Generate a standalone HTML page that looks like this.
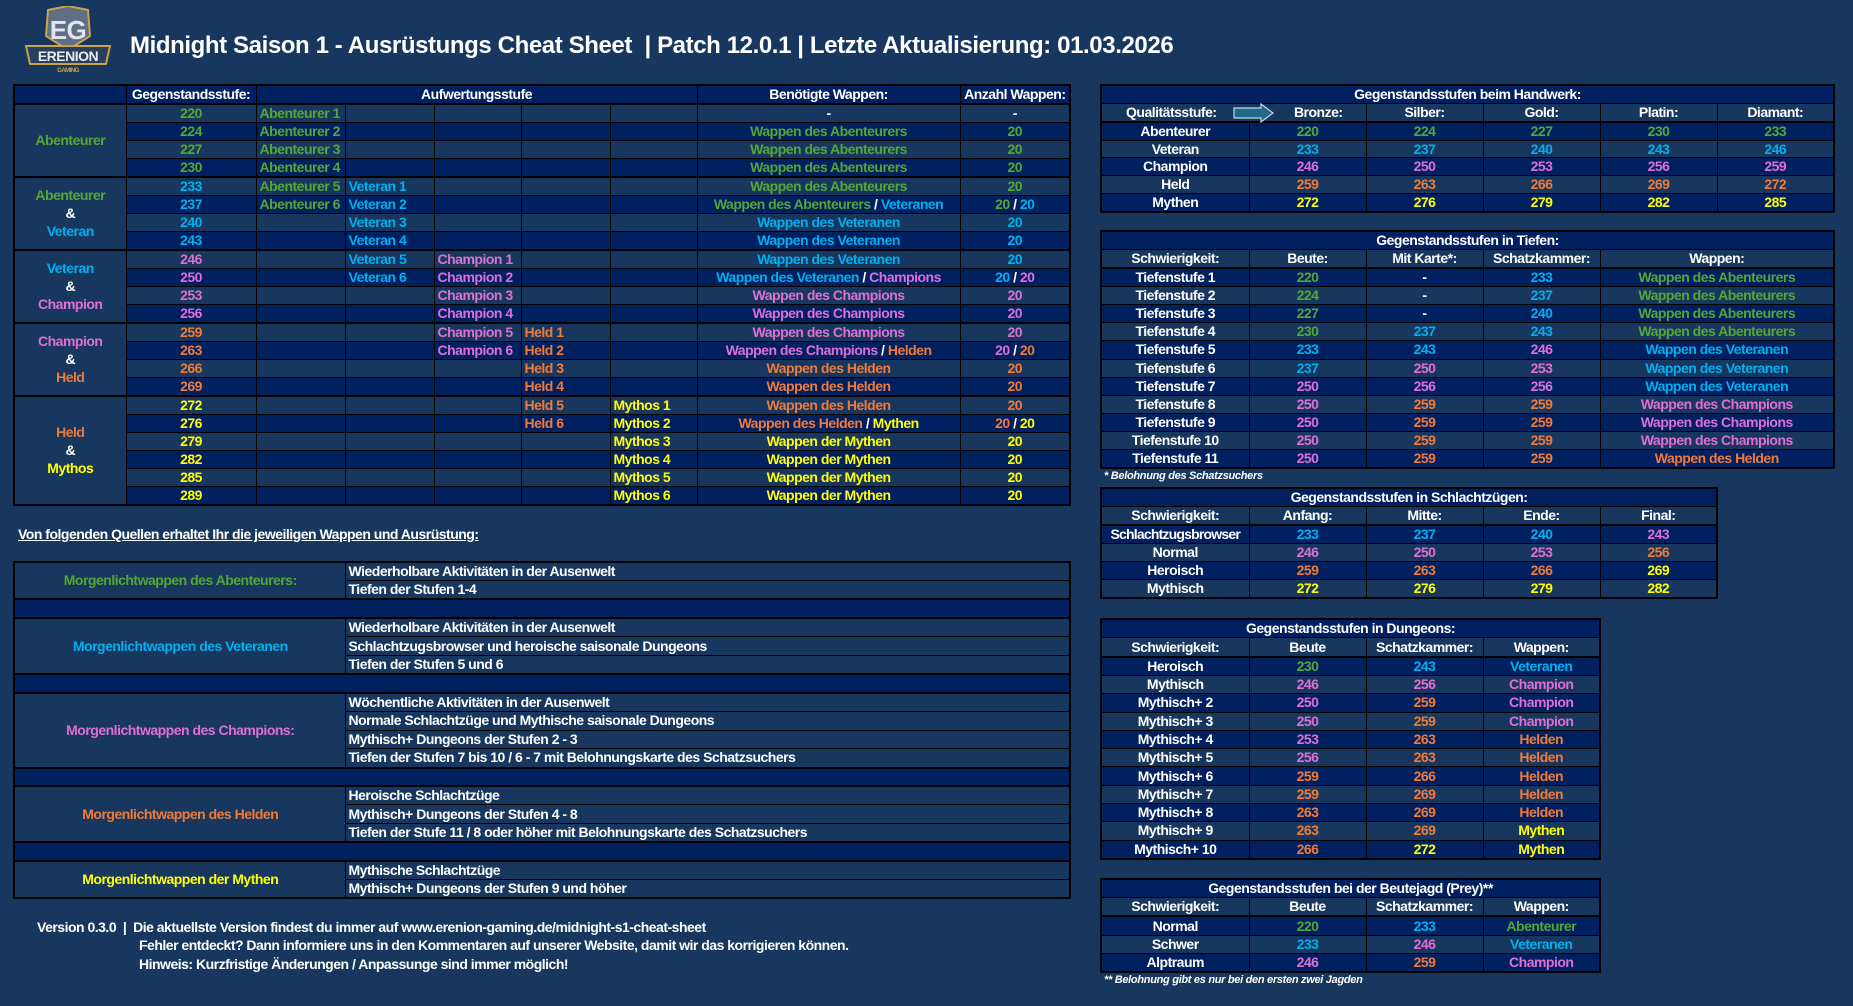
<!DOCTYPE html>
<html><head><meta charset="utf-8">
<style>
*{margin:0;padding:0;box-sizing:border-box}
body{width:1853px;height:1006px;background:#17375e;position:relative;overflow:hidden;font-family:"Liberation Sans",sans-serif;font-weight:bold;color:#fff;font-size:14px;letter-spacing:-0.5px}
table{position:absolute;border-collapse:collapse;table-layout:fixed;border:2px solid #000}
td{border:1px solid #000;padding:0 2px;text-align:center;white-space:nowrap;overflow:hidden;line-height:15px}
.d td,td.d{background:#002060}
.l td,td.l{background:#17375e}
.g{color:#55a635}.b{color:#00b0f0}.p{color:#df6fd5}.o{color:#f07a3a}.y{color:#ffff00}.w{color:#fff}
.lf{text-align:left;padding-left:3px}
.tb td{border-top:2px solid #000}
.hb td{border-bottom:2px solid #000}
.title{position:absolute;left:130px;top:32px;font-size:24px;letter-spacing:-0.4px;white-space:nowrap}
.note{position:absolute;font-size:11px;font-style:italic;white-space:nowrap;letter-spacing:-0.3px}
.src td{text-align:left;padding-left:3px;background:#17375e}
.src tr{height:18.7px}
.src tr.sp td{background:#002060;border-top:2px solid #000;border-bottom:2px solid #000}
</style></head><body>

<svg style="position:absolute;left:22px;top:6px" width="92" height="68" viewBox="0 0 92 68">
<path d="M26 4 L46 0 L66 4 L68 30 L46 44 L24 30 Z" fill="#5e6f86" stroke="#c9a24a" stroke-width="2"/>
<text x="46" y="33" text-anchor="middle" font-family="Liberation Sans" font-weight="bold" font-size="26" fill="#dfe6ee">EG</text>
<path d="M4 40 L88 40 L84 58 L8 58 Z" fill="#2a3f5c" stroke="#c9a24a" stroke-width="2"/>
<text x="46" y="55" text-anchor="middle" font-family="Liberation Sans" font-weight="bold" font-size="14" fill="#e8ecf0">ERENION</text>
<text x="46" y="66" text-anchor="middle" font-family="Liberation Sans" font-weight="bold" font-size="6" fill="#c9a24a">GAMING</text>
</svg>
<div class="title">Midnight Saison 1 - Ausrüstungs Cheat Sheet &nbsp;| Patch 12.0.1 | Letzte Aktualisierung: 01.03.2026</div>

<!-- Main table -->
<table style="left:13px;top:84px;width:1056px;height:422px">
<colgroup><col style="width:112px"><col style="width:130px"><col style="width:89px"><col style="width:89px"><col style="width:87px"><col style="width:89px"><col style="width:87px"><col style="width:263px"><col style="width:110px"></colgroup>
<tr class="d hb"><td></td><td>Gegenstandsstufe:</td><td colspan="5">Aufwertungsstufe</td><td>Benötigte Wappen:</td><td>Anzahl Wappen:</td></tr>
<tr class="l"><td rowspan="4" class="d g">Abenteurer</td><td class="g">220</td><td class="g lf">Abenteurer 1</td><td></td><td></td><td></td><td></td><td>-</td><td>-</td></tr>
<tr class="d"><td class="g">224</td><td class="g lf">Abenteurer 2</td><td></td><td></td><td></td><td></td><td class="g">Wappen des Abenteurers</td><td class="g">20</td></tr>
<tr class="l"><td class="g">227</td><td class="g lf">Abenteurer 3</td><td></td><td></td><td></td><td></td><td class="g">Wappen des Abenteurers</td><td class="g">20</td></tr>
<tr class="d"><td class="g">230</td><td class="g lf">Abenteurer 4</td><td></td><td></td><td></td><td></td><td class="g">Wappen des Abenteurers</td><td class="g">20</td></tr>
<tr class="l tb"><td rowspan="4" class="d" style="line-height:18px"><span class="g">Abenteurer</span><br>&amp;<br><span class="b">Veteran</span></td><td class="b">233</td><td class="g lf">Abenteurer 5</td><td class="b lf">Veteran 1</td><td></td><td></td><td></td><td class="g">Wappen des Abenteurers</td><td class="g">20</td></tr>
<tr class="d"><td class="b">237</td><td class="g lf">Abenteurer 6</td><td class="b lf">Veteran 2</td><td></td><td></td><td></td><td><span class="g">Wappen des Abenteurers</span> / <span class="b">Veteranen</span></td><td><span class="g">20</span> / <span class="b">20</span></td></tr>
<tr class="l"><td class="b">240</td><td></td><td class="b lf">Veteran 3</td><td></td><td></td><td></td><td class="b">Wappen des Veteranen</td><td class="b">20</td></tr>
<tr class="d"><td class="b">243</td><td></td><td class="b lf">Veteran 4</td><td></td><td></td><td></td><td class="b">Wappen des Veteranen</td><td class="b">20</td></tr>
<tr class="l tb"><td rowspan="4" class="d" style="line-height:18px"><span class="b">Veteran</span><br>&amp;<br><span class="p">Champion</span></td><td class="p">246</td><td></td><td class="b lf">Veteran 5</td><td class="p lf">Champion 1</td><td></td><td></td><td class="b">Wappen des Veteranen</td><td class="b">20</td></tr>
<tr class="d"><td class="p">250</td><td></td><td class="b lf">Veteran 6</td><td class="p lf">Champion 2</td><td></td><td></td><td><span class="b">Wappen des Veteranen</span> / <span class="p">Champions</span></td><td><span class="b">20</span> / <span class="p">20</span></td></tr>
<tr class="l"><td class="p">253</td><td></td><td></td><td class="p lf">Champion 3</td><td></td><td></td><td class="p">Wappen des Champions</td><td class="p">20</td></tr>
<tr class="d"><td class="p">256</td><td></td><td></td><td class="p lf">Champion 4</td><td></td><td></td><td class="p">Wappen des Champions</td><td class="p">20</td></tr>
<tr class="l tb"><td rowspan="4" class="d" style="line-height:18px"><span class="p">Champion</span><br>&amp;<br><span class="o">Held</span></td><td class="o">259</td><td></td><td></td><td class="p lf">Champion 5</td><td class="o lf">Held 1</td><td></td><td class="p">Wappen des Champions</td><td class="p">20</td></tr>
<tr class="d"><td class="o">263</td><td></td><td></td><td class="p lf">Champion 6</td><td class="o lf">Held 2</td><td></td><td><span class="p">Wappen des Champions</span> / <span class="o">Helden</span></td><td><span class="p">20</span> / <span class="o">20</span></td></tr>
<tr class="l"><td class="o">266</td><td></td><td></td><td></td><td class="o lf">Held 3</td><td></td><td class="o">Wappen des Helden</td><td class="o">20</td></tr>
<tr class="d"><td class="o">269</td><td></td><td></td><td></td><td class="o lf">Held 4</td><td></td><td class="o">Wappen des Helden</td><td class="o">20</td></tr>
<tr class="l tb"><td rowspan="6" class="d" style="line-height:18px"><span class="o">Held</span><br>&amp;<br><span class="y">Mythos</span></td><td class="y">272</td><td></td><td></td><td></td><td class="o lf">Held 5</td><td class="y lf">Mythos 1</td><td class="o">Wappen des Helden</td><td class="o">20</td></tr>
<tr class="d"><td class="y">276</td><td></td><td></td><td></td><td class="o lf">Held 6</td><td class="y lf">Mythos 2</td><td><span class="o">Wappen des Helden</span> / <span class="y">Mythen</span></td><td><span class="o">20</span> / <span class="y">20</span></td></tr>
<tr class="l"><td class="y">279</td><td></td><td></td><td></td><td></td><td class="y lf">Mythos 3</td><td class="y">Wappen der Mythen</td><td class="y">20</td></tr>
<tr class="d"><td class="y">282</td><td></td><td></td><td></td><td></td><td class="y lf">Mythos 4</td><td class="y">Wappen der Mythen</td><td class="y">20</td></tr>
<tr class="l"><td class="y">285</td><td></td><td></td><td></td><td></td><td class="y lf">Mythos 5</td><td class="y">Wappen der Mythen</td><td class="y">20</td></tr>
<tr class="d"><td class="y">289</td><td></td><td></td><td></td><td></td><td class="y lf">Mythos 6</td><td class="y">Wappen der Mythen</td><td class="y">20</td></tr>
</table>

<div style="position:absolute;left:18px;top:526px;font-size:14px;text-decoration:underline">Von folgenden Quellen erhaltet Ihr die jeweiligen Wappen und Ausrüstung:</div>

<table class="src" style="left:13px;top:561px;width:1056px;height:337px">
<colgroup><col style="width:331px"><col style="width:725px"></colgroup>
<tr><td rowspan="2" class="g" style="text-align:center">Morgenlichtwappen des Abenteurers:</td><td>Wiederholbare Aktivitäten in der Ausenwelt</td></tr>
<tr><td>Tiefen der Stufen 1-4</td></tr>
<tr class="sp"><td colspan="2"></td></tr>
<tr><td rowspan="3" class="b" style="text-align:center">Morgenlichtwappen des Veteranen</td><td>Wiederholbare Aktivitäten in der Ausenwelt</td></tr>
<tr><td>Schlachtzugsbrowser und heroische saisonale Dungeons</td></tr>
<tr><td>Tiefen der Stufen 5 und 6</td></tr>
<tr class="sp"><td colspan="2"></td></tr>
<tr><td rowspan="4" class="p" style="text-align:center">Morgenlichtwappen des Champions:</td><td>Wöchentliche Aktivitäten in der Ausenwelt</td></tr>
<tr><td>Normale Schlachtzüge und Mythische saisonale Dungeons</td></tr>
<tr><td>Mythisch+ Dungeons der Stufen 2 - 3</td></tr>
<tr><td>Tiefen der Stufen 7 bis 10 / 6 - 7 mit Belohnungskarte des Schatzsuchers</td></tr>
<tr class="sp"><td colspan="2"></td></tr>
<tr><td rowspan="3" class="o" style="text-align:center">Morgenlichtwappen des Helden</td><td>Heroische Schlachtzüge</td></tr>
<tr><td>Mythisch+ Dungeons der Stufen 4 - 8</td></tr>
<tr><td>Tiefen der Stufe 11 / 8 oder höher mit Belohnungskarte des Schatzsuchers</td></tr>
<tr class="sp"><td colspan="2"></td></tr>
<tr><td rowspan="2" class="y" style="text-align:center">Morgenlichtwappen der Mythen</td><td>Mythische Schlachtzüge</td></tr>
<tr><td>Mythisch+ Dungeons der Stufen 9 und höher</td></tr>
</table>

<div style="position:absolute;left:37px;top:918px;line-height:18.5px;white-space:nowrap">Version 0.3.0 &nbsp;|&nbsp; Die aktuellste Version findest du immer auf www.erenion-gaming.de/midnight-s1-cheat-sheet</div>
<div style="position:absolute;left:139px;top:936px;line-height:18.5px;white-space:nowrap">Fehler entdeckt? Dann informiere uns in den Kommentaren auf unserer Website, damit wir das korrigieren können.<br>Hinweis: Kurzfristige Änderungen / Anpassunge sind immer möglich!</div>

<!-- Handwerk -->
<table style="left:1100px;top:84px;width:733px;height:129px">
<colgroup><col style="width:148px"><col style="width:117px"><col style="width:117px"><col style="width:117px"><col style="width:117px"><col style="width:117px"></colgroup>
<tr class="d"><td colspan="6">Gegenstandsstufen beim Handwerk:</td></tr>
<tr class="l hb"><td style="border-right:none;text-align:left;padding-left:24px">Qualitätsstufe:</td><td style="border-left:none;padding-left:24px">Bronze:</td><td>Silber:</td><td>Gold:</td><td>Platin:</td><td>Diamant:</td></tr>
<tr class="d"><td>Abenteurer</td><td class="g">220</td><td class="g">224</td><td class="g">227</td><td class="g">230</td><td class="g">233</td></tr>
<tr class="l"><td>Veteran</td><td class="b">233</td><td class="b">237</td><td class="b">240</td><td class="b">243</td><td class="b">246</td></tr>
<tr class="d"><td>Champion</td><td class="p">246</td><td class="p">250</td><td class="p">253</td><td class="p">256</td><td class="p">259</td></tr>
<tr class="l"><td>Held</td><td class="o">259</td><td class="o">263</td><td class="o">266</td><td class="o">269</td><td class="o">272</td></tr>
<tr class="d"><td>Mythen</td><td class="y">272</td><td class="y">276</td><td class="y">279</td><td class="y">282</td><td class="y">285</td></tr>
</table>
<svg style="position:absolute;left:1233px;top:103px" width="42" height="20" viewBox="0 0 42 20"><path d="M1 5 H28 V1 L40 10 L28 19 V15 H1 Z" fill="#1f6a8a" stroke="#c8d4e0" stroke-width="1.2"/></svg>

<!-- Tiefen -->
<table style="left:1100px;top:230px;width:733px;height:239px">
<colgroup><col style="width:148px"><col style="width:117px"><col style="width:117px"><col style="width:117px"><col style="width:234px"></colgroup>
<tr class="d"><td colspan="5">Gegenstandsstufen in Tiefen:</td></tr>
<tr class="l hb"><td>Schwierigkeit:</td><td>Beute:</td><td>Mit Karte*:</td><td>Schatzkammer:</td><td>Wappen:</td></tr>
<tr class="d"><td>Tiefenstufe 1</td><td class="g">220</td><td>-</td><td class="b">233</td><td class="g">Wappen des Abenteurers</td></tr>
<tr class="l"><td>Tiefenstufe 2</td><td class="g">224</td><td>-</td><td class="b">237</td><td class="g">Wappen des Abenteurers</td></tr>
<tr class="d"><td>Tiefenstufe 3</td><td class="g">227</td><td>-</td><td class="b">240</td><td class="g">Wappen des Abenteurers</td></tr>
<tr class="l"><td>Tiefenstufe 4</td><td class="g">230</td><td class="b">237</td><td class="b">243</td><td class="g">Wappen des Abenteurers</td></tr>
<tr class="d"><td>Tiefenstufe 5</td><td class="b">233</td><td class="b">243</td><td class="p">246</td><td class="b">Wappen des Veteranen</td></tr>
<tr class="l"><td>Tiefenstufe 6</td><td class="b">237</td><td class="p">250</td><td class="p">253</td><td class="b">Wappen des Veteranen</td></tr>
<tr class="d"><td>Tiefenstufe 7</td><td class="p">250</td><td class="p">256</td><td class="p">256</td><td class="b">Wappen des Veteranen</td></tr>
<tr class="l"><td>Tiefenstufe 8</td><td class="p">250</td><td class="o">259</td><td class="o">259</td><td class="p">Wappen des Champions</td></tr>
<tr class="d"><td>Tiefenstufe 9</td><td class="p">250</td><td class="o">259</td><td class="o">259</td><td class="p">Wappen des Champions</td></tr>
<tr class="l"><td>Tiefenstufe 10</td><td class="p">250</td><td class="o">259</td><td class="o">259</td><td class="p">Wappen des Champions</td></tr>
<tr class="d"><td>Tiefenstufe 11</td><td class="p">250</td><td class="o">259</td><td class="o">259</td><td class="o">Wappen des Helden</td></tr>
</table>
<div class="note" style="left:1104px;top:470px">* Belohnung des Schatzsuchers</div>

<!-- Schlachtzüge -->
<table style="left:1100px;top:487px;width:616px;height:112px">
<colgroup><col style="width:148px"><col style="width:117px"><col style="width:117px"><col style="width:117px"><col style="width:117px"></colgroup>
<tr class="d"><td colspan="5">Gegenstandsstufen in Schlachtzügen:</td></tr>
<tr class="l hb"><td>Schwierigkeit:</td><td>Anfang:</td><td>Mitte:</td><td>Ende:</td><td>Final:</td></tr>
<tr class="d"><td style="padding:0;letter-spacing:-0.8px">Schlachtzugsbrowser</td><td class="b">233</td><td class="b">237</td><td class="b">240</td><td class="p">243</td></tr>
<tr class="l"><td>Normal</td><td class="p">246</td><td class="p">250</td><td class="p">253</td><td class="o">256</td></tr>
<tr class="d"><td>Heroisch</td><td class="o">259</td><td class="o">263</td><td class="o">266</td><td class="y">269</td></tr>
<tr class="l"><td>Mythisch</td><td class="y">272</td><td class="y">276</td><td class="y">279</td><td class="y">282</td></tr>
</table>

<!-- Dungeons -->
<table style="left:1100px;top:618px;width:499px;height:242px">
<colgroup><col style="width:148px"><col style="width:117px"><col style="width:117px"><col style="width:117px"></colgroup>
<tr class="d"><td colspan="4">Gegenstandsstufen in Dungeons:</td></tr>
<tr class="l hb"><td>Schwierigkeit:</td><td>Beute</td><td>Schatzkammer:</td><td>Wappen:</td></tr>
<tr class="d"><td>Heroisch</td><td class="g">230</td><td class="b">243</td><td class="b">Veteranen</td></tr>
<tr class="l"><td>Mythisch</td><td class="p">246</td><td class="p">256</td><td class="p">Champion</td></tr>
<tr class="d"><td>Mythisch+ 2</td><td class="p">250</td><td class="o">259</td><td class="p">Champion</td></tr>
<tr class="l"><td>Mythisch+ 3</td><td class="p">250</td><td class="o">259</td><td class="p">Champion</td></tr>
<tr class="d"><td>Mythisch+ 4</td><td class="p">253</td><td class="o">263</td><td class="o">Helden</td></tr>
<tr class="l"><td>Mythisch+ 5</td><td class="p">256</td><td class="o">263</td><td class="o">Helden</td></tr>
<tr class="d"><td>Mythisch+ 6</td><td class="o">259</td><td class="o">266</td><td class="o">Helden</td></tr>
<tr class="l"><td>Mythisch+ 7</td><td class="o">259</td><td class="o">269</td><td class="o">Helden</td></tr>
<tr class="d"><td>Mythisch+ 8</td><td class="o">263</td><td class="o">269</td><td class="o">Helden</td></tr>
<tr class="l"><td>Mythisch+ 9</td><td class="o">263</td><td class="o">269</td><td class="y">Mythen</td></tr>
<tr class="d"><td>Mythisch+ 10</td><td class="o">266</td><td class="y">272</td><td class="y">Mythen</td></tr>
</table>

<!-- Prey -->
<table style="left:1100px;top:878px;width:499px;height:95px">
<colgroup><col style="width:148px"><col style="width:117px"><col style="width:117px"><col style="width:117px"></colgroup>
<tr class="d"><td colspan="4">Gegenstandsstufen bei der Beutejagd (Prey)**</td></tr>
<tr class="l hb"><td>Schwierigkeit:</td><td>Beute</td><td>Schatzkammer:</td><td>Wappen:</td></tr>
<tr class="d"><td>Normal</td><td class="g">220</td><td class="b">233</td><td class="g">Abenteurer</td></tr>
<tr class="l"><td>Schwer</td><td class="b">233</td><td class="p">246</td><td class="b">Veteranen</td></tr>
<tr class="d"><td>Alptraum</td><td class="p">246</td><td class="o">259</td><td class="p">Champion</td></tr>
</table>
<div class="note" style="left:1104px;top:974px">** Belohnung gibt es nur bei den ersten zwei Jagden</div>

</body></html>
